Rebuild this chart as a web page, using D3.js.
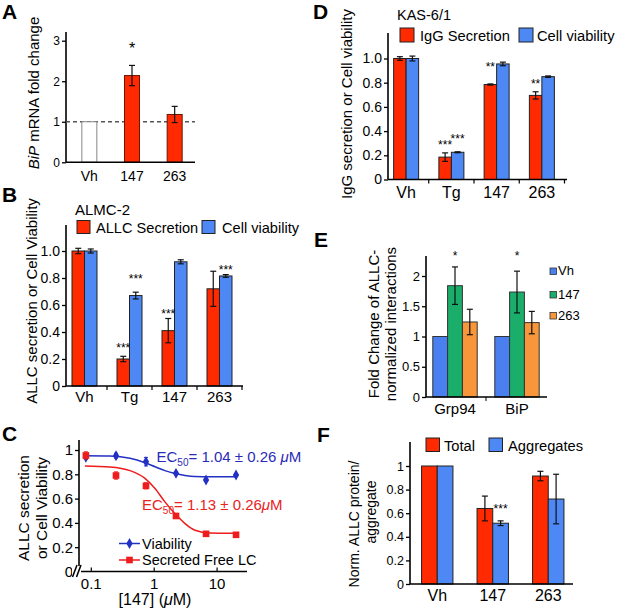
<!DOCTYPE html>
<html>
<head>
<meta charset="utf-8">
<script src="https://cdn.jsdelivr.net/npm/d3@7"></script>
<style>
body { margin: 0; background: #fff; }
text { font-family: 'Liberation Sans', Arial, Helvetica, sans-serif; fill: #000; }
</style>
</head>
<body>
<div id="fig"></div>
<script>
// A: BiP mRNA fold change
const aCats = ["Vh", "147", "263"];
const aFold = [1, 2.14, 1.18];
const aFoldErr = [0, 0.25, 0.2];
const aStars = [{cat: "147", s: 0, level: 2.9, text: "*"}];

// B: ALMC-2
const bCats = ["Vh", "Tg", "147", "263"];
const bSecretion = [1.0, 0.20, 0.41, 0.72];
const bSecretionErr = [0.02, 0.02, 0.09, 0.13];
const bViability = [1.0, 0.67, 0.92, 0.815];
const bViabilityErr = [0.015, 0.025, 0.015, 0.01];
const bStars = [
  {cat: "Tg", s: 0, level: 0.30, text: "***"},
  {cat: "Tg", s: 1, level: 0.81, text: "***"},
  {cat: "147", s: 0, level: 0.55, text: "***"},
  {cat: "263", s: 1, level: 0.88, text: "***"}
];

// C: dose response to 147
const cDose = [0.082, 0.247, 0.74, 2.22, 6.67, 20];
const cViability = [0.94, 0.953, 0.904, 0.808, 0.753, 0.794];
const cViabilityErr = [0.015, 0.02, 0.035, 0.01, 0.01, 0.01];
const cFreeLC = [0.955, 0.79, 0.705, 0.457, 0.31, 0.302];
const cFreeLCErr = [0.03, 0.03, 0.025, 0.01, 0.01, 0.005];
const cFitX = [0.079, 0.198, 0.413, 0.714, 1.03, 1.48, 2.14, 3.09, 4.45, 7.7, 19.3];
const cFitViability = [0.953, 0.951, 0.932, 0.895, 0.862, 0.83, 0.806, 0.79, 0.782, 0.78, 0.78];
const cFitFreeLC = [0.868, 0.86, 0.83, 0.766, 0.683, 0.573, 0.477, 0.394, 0.34, 0.317, 0.315];
const cTicks = [0.1, 1, 10];

// D: KAS-6/1
const dCats = ["Vh", "Tg", "147", "263"];
const dIgG = [1.0, 0.185, 0.785, 0.695];
const dIgGErr = [0.015, 0.035, 0.005, 0.03];
const dViability = [1.0, 0.225, 0.955, 0.85];
const dViabilityErr = [0.02, 0.004, 0.015, 0.006];
const dStars = [
  {cat: "Tg", s: 0, level: 0.31, text: "***"},
  {cat: "Tg", s: 1, level: 0.357, text: "***"},
  {cat: "147", s: 0, level: 0.95, text: "**"},
  {cat: "263", s: 0, level: 0.81, text: "**"}
];

// E: chaperone interactions
const eCats = ["Grp94", "BiP"];
const eVh = [1, 1];
const e147 = [1.84, 1.735];
const e147Err = [0.31, 0.345];
const e263 = [1.24, 1.23];
const e263Err = [0.21, 0.185];
const eStars = [
  {cat: "Grp94", s: 1, level: 2.38, text: "*"},
  {cat: "BiP", s: 1, level: 2.38, text: "*"}
];

// F: total vs aggregates
const fCats = ["Vh", "147", "263"];
const fTotal = [1, 0.64, 0.915];
const fTotalErr = [0, 0.105, 0.04];
const fAggregates = [1, 0.515, 0.72];
const fAggregatesErr = [0, 0.02, 0.21];
const fStars = [{cat: "147", s: 1, level: 0.66, text: "***"}];

const RED = "#ff2a00", BLUE = "#4d88f5";

const svg = d3.select("#fig").append("svg")
  .attr("width", 617).attr("height", 608);
svg.append("rect").attr("width", 617).attr("height", 608).attr("fill", "#fff");

function leftAxis(y, ticks, fmt, xPos, top, fs) {
  const g = svg.append("g").attr("transform", `translate(${xPos},0)`)
    .call(d3.axisLeft(y).tickValues(ticks).tickFormat(fmt).tickSize(4).tickSizeOuter(0));
  g.select(".domain").remove();
  g.append("line").attr("y1", top).attr("y2", y.range()[0])
    .attr("stroke", "#000").attr("stroke-width", 1.6);
  g.selectAll(".tick line").attr("stroke-width", 1.3);
  g.selectAll(".tick text").style("font-size", fs + "px").attr("x", -6);
  return g;
}

function bottomAxis(x, y0, x0, x1, fs, lab, ticks) {
  const yy = y0;
  svg.append("line").attr("x1", x0).attr("x2", x1).attr("y1", yy).attr("y2", yy)
    .attr("stroke", "#000").attr("stroke-width", 1.6);
  if (ticks) {
    svg.append("g").selectAll("line").data(x.domain()).join("line")
      .attr("x1", d => x(d) + x.step()).attr("x2", d => x(d) + x.step())
      .attr("y1", yy).attr("y2", yy + 4).attr("stroke", "#000").attr("stroke-width", 1.2);
  }
  svg.append("g").selectAll("text").data(x.domain()).join("text")
    .attr("x", d => x(d) + x.bandwidth() / 2).attr("y", yy + lab)
    .attr("text-anchor", "middle").style("font-size", fs + "px").text(d => d);
}

function groupedBars(x, y, cats, series, bw) {
  const n = series.length;
  series.forEach((s, i) => {
    const off = -n * bw / 2 + i * bw;
    const cx = d => x(d) + x.bandwidth() / 2 + off;
    svg.append("g").selectAll("rect").data(cats).join("rect")
      .attr("x", d => cx(d))
      .attr("y", (d, j) => y(s.vals[j]))
      .attr("width", bw)
      .attr("height", (d, j) => y(0) - y(s.vals[j]))
      .attr("fill", (d, j) => typeof s.fill === "function" ? s.fill(d, j) : s.fill)
      .attr("stroke", (d, j) => typeof s.stroke === "function" ? s.stroke(d, j) : (s.stroke || "#222"))
      .attr("stroke-width", 1);
    if (s.errs) {
      const eg = svg.append("g").attr("stroke", "#111").attr("stroke-width", 1.2);
      cats.forEach((d, j) => {
        const e = s.errs[j];
        if (!e) return;
        const xm = cx(d) + bw / 2;
        const ya = y(s.vals[j] + e), yb = y(s.vals[j] - e);
        eg.append("line").attr("x1", xm).attr("x2", xm).attr("y1", ya).attr("y2", yb);
        eg.append("line").attr("x1", xm - 3).attr("x2", xm + 3).attr("y1", ya).attr("y2", ya);
        eg.append("line").attr("x1", xm - 3).attr("x2", xm + 3).attr("y1", yb).attr("y2", yb);
      });
    }
  });
}

function stars(x, y, list, n, bw, fs) {
  svg.append("g").selectAll("text").data(list).join("text")
    .attr("x", d => x(d.cat) + x.bandwidth() / 2 - n * bw / 2 + d.s * bw + bw / 2)
    .attr("y", d => y(d.level) + fs * 0.55)
    .attr("text-anchor", "middle").style("font-size", fs + "px").text(d => d.text);
}

function yLabel(lines, xs, cy, fs) {
  lines.forEach((t, i) => {
    const tx = svg.append("text")
      .attr("transform", `translate(${xs[i]},${Array.isArray(cy) ? cy[i] : cy}) rotate(-90)`)
      .attr("text-anchor", "middle").style("font-size", fs + "px");
    if (typeof t === "string") tx.text(t);
    else t.forEach(p => tx.append("tspan").style("font-style", p.i ? "italic" : null).text(p.t));
  });
}

function panelLetter(t, x, y) {
  svg.append("text").attr("x", x).attr("y", y).style("font-size", "21px")
    .style("font-weight", "bold").text(t);
}

function legendBox(x, y, size, color, label, fs, dx) {
  svg.append("rect").attr("x", x).attr("y", y).attr("width", size).attr("height", size)
    .attr("fill", color).attr("stroke", "#222").attr("stroke-width", 1);
  svg.append("text").attr("x", x + size + dx).attr("y", y + size - 1)
    .style("font-size", fs + "px").text(label);
}

// ---------- A ----------
const xA = d3.scaleBand().domain(aCats).range([68, 196]);
const yA = d3.scaleLinear().domain([0, 3]).range([162.3, 40.7]);
leftAxis(yA, [0, 1, 2, 3], d3.format("d"), 66, 32, 12);
svg.append("line").attr("x1", 66).attr("x2", 195).attr("y1", yA(1)).attr("y2", yA(1))
  .attr("stroke", "#555").attr("stroke-width", 1.3).attr("stroke-dasharray", "4,3");
groupedBars(xA, yA, aCats, [{
  vals: aFold, errs: aFoldErr,
  fill: d => d === "Vh" ? "#fff" : RED,
  stroke: d => d === "Vh" ? "#888" : "#6b1500"
}], 15);
bottomAxis(xA, yA(0), 66, 195, 14, 19, false);
stars(xA, yA, aStars, 1, 15, 16);
yLabel([[{t: "BiP", i: true}, {t: " mRNA fold change"}]], [38.5], 93, 15);
panelLetter("A", 2, 18.5);

// ---------- B ----------
const xB = d3.scaleBand().domain(bCats).range([62, 242]);
const yB = d3.scaleLinear().domain([0, 1]).range([386, 251]);
leftAxis(yB, [0, 0.2, 0.4, 0.6, 0.8, 1.0], d => d === 0 ? "0" : d3.format(".1f")(d), 66, 225, 14);
groupedBars(xB, yB, bCats, [
  {vals: bSecretion, errs: bSecretionErr, fill: RED},
  {vals: bViability, errs: bViabilityErr, fill: BLUE}
], 12.5);
bottomAxis(xB, 386, 66, 243, 15, 16, true);
stars(xB, yB, bStars, 2, 12.5, 12);
svg.append("text").attr("x", 75).attr("y", 215).style("font-size", "15px").text("ALMC-2");
legendBox(77, 220.5, 13, RED, "ALLC Secretion", 14.6, 6);
legendBox(202, 220.5, 13, BLUE, "Cell viability", 14.6, 7);
yLabel(["ALLC secretion or Cell Viability"], [37], 301, 15);
panelLetter("B", 2, 201.5);

// ---------- C ----------
const xC = d3.scaleLog().domain([0.1, 10]).range([91.3, 217.1]);
const yC = d3.scaleLinear().domain([0, 1]).range([571.5, 450]);
leftAxis(yC, [0, 0.2, 0.4, 0.6, 0.8, 1], d => d === 0 || d === 1 ? d3.format("d")(d) : d3.format(".1f")(d), 79, 440, 15);
svg.append("line").attr("x1", 77).attr("x2", 247).attr("y1", 571.5).attr("y2", 571.5)
  .attr("stroke", "#000").attr("stroke-width", 1.6);
svg.append("g").selectAll("line").data(cTicks).join("line")
  .attr("x1", d => xC(d)).attr("x2", d => xC(d)).attr("y1", 571.5).attr("y2", 567.5)
  .attr("stroke", "#000").attr("stroke-width", 1.2);
svg.append("g").selectAll("text").data(cTicks).join("text")
  .attr("x", d => xC(d)).attr("y", 589).attr("text-anchor", "middle")
  .style("font-size", "15px").text(d => d3.format("~g")(d));
// axis break
svg.append("rect").attr("x", 72).attr("y", 566).attr("width", 9).attr("height", 10).attr("fill", "#fff");
[[72.5, 77], [76.5, 81]].forEach(p => svg.append("line")
  .attr("x1", p[0]).attr("y1", 577).attr("x2", p[1]).attr("y2", 565)
  .attr("stroke", "#000").attr("stroke-width", 1.5));

const cSeries = [
  {vals: cViability, errs: cViabilityErr, fit: cFitViability, color: "#2231c4", sym: d3.symbolDiamond, size: 34},
  {vals: cFreeLC, errs: cFreeLCErr, fit: cFitFreeLC, color: "#ee1c1c", sym: d3.symbolSquare, size: 44}
];
const cLine = d3.line().x(d => xC(d[0])).y(d => yC(d[1])).curve(d3.curveMonotoneX);
cSeries.forEach(s => {
  svg.append("path").datum(d3.zip(cFitX, s.fit)).attr("fill", "none")
    .attr("stroke", s.color).attr("stroke-width", 1.5).attr("d", cLine);
  const g = svg.append("g");
  cDose.forEach((d, j) => {
    const px = xC(d), ya = yC(s.vals[j] + s.errs[j]), yb = yC(s.vals[j] - s.errs[j]);
    g.append("line").attr("x1", px).attr("x2", px).attr("y1", ya).attr("y2", yb).attr("stroke", s.color).attr("stroke-width", 1);
    g.append("line").attr("x1", px - 2).attr("x2", px + 2).attr("y1", ya).attr("y2", ya).attr("stroke", s.color);
    g.append("line").attr("x1", px - 2).attr("x2", px + 2).attr("y1", yb).attr("y2", yb).attr("stroke", s.color);
  });
  g.selectAll("path").data(cDose).join("path")
    .attr("transform", (d, j) => `translate(${xC(d)},${yC(s.vals[j])})`)
    .attr("d", d3.symbol(s.sym, s.size)).attr("fill", s.color);
});
// legend C
[["Viability", 543.5], ["Secreted Free LC", 560]].forEach((l, i) => {
  const s = cSeries[i];
  svg.append("line").attr("x1", 119).attr("x2", 140).attr("y1", l[1]).attr("y2", l[1])
    .attr("stroke", s.color).attr("stroke-width", 1.5);
  svg.append("path").attr("transform", `translate(129.5,${l[1]})`)
    .attr("d", d3.symbol(s.sym, s.size)).attr("fill", s.color);
  svg.append("text").attr("x", 142).attr("y", l[1] + 5).style("font-size", "14.5px").text(l[0]);
});
// EC50 annotations
function ec50(x, y, color, rest) {
  const t = svg.append("text").attr("x", x).attr("y", y).style("font-size", "15px").style("fill", color);
  t.append("tspan").style("fill", color).text("EC");
  t.append("tspan").style("fill", color).style("font-size", "10px").attr("dy", 4).text("50");
  t.append("tspan").style("fill", color).attr("dy", -4).text(rest);
  t.append("tspan").style("fill", color).style("font-style", "italic").text("\u03bc");
  t.append("tspan").style("fill", color).text("M");
}
ec50(156.5, 462, "#2a2ab8", "= 1.04 \u00b1 0.26 ");
ec50(142, 510, "#e8231e", "= 1.13 \u00b1 0.26");
svg.append("text").attr("x", 155).attr("y", 605).attr("text-anchor", "middle").style("font-size", "16px")
  .call(t => { t.append("tspan").text("[147] ("); t.append("tspan").style("font-style", "italic").text("\u03bc"); t.append("tspan").text("M)"); });
yLabel(["ALLC secretion", "or Cell Viability"], [29, 47], 508, 15.5);
panelLetter("C", 2, 440.5);

// ---------- D ----------
const xD = d3.scaleBand().domain(dCats).range([383.5, 564.5]);
const yD = d3.scaleLinear().domain([0, 1]).range([179.5, 58.5]);
leftAxis(yD, [0, 0.2, 0.4, 0.6, 0.8, 1.0], d => d === 0 ? "0" : d3.format(".1f")(d), 388, 33, 14);
groupedBars(xD, yD, dCats, [
  {vals: dIgG, errs: dIgGErr, fill: RED},
  {vals: dViability, errs: dViabilityErr, fill: BLUE}
], 12.5);
bottomAxis(xD, 179.5, 388, 567, 16, 18, true);
stars(xD, yD, dStars, 2, 12.5, 12);
svg.append("text").attr("x", 397).attr("y", 20).style("font-size", "14.5px").text("KAS-6/1");
legendBox(400, 28, 14, RED, "IgG Secretion", 14.7, 6);
legendBox(519, 28, 14, BLUE, "Cell viability", 14.7, 4);
yLabel(["IgG secretion or Cell viability"], [352], 104, 15);
panelLetter("D", 313, 18.5);

// ---------- E ----------
const xE = d3.scaleBand().domain(eCats).range([424, 548]);
const yE = d3.scaleLinear().domain([0, 2]).range([397, 276]);
leftAxis(yE, [0, 0.5, 1, 1.5, 2], d3.format("~g"), 426, 256, 13);
groupedBars(xE, yE, eCats, [
  {vals: eVh, fill: "#4a7ff0", stroke: "#333"},
  {vals: e147, errs: e147Err, fill: "#1aae6a", stroke: "#333"},
  {vals: e263, errs: e263Err, fill: "#f7963a", stroke: "#333"}
], 14.8);
bottomAxis(xE, 397, 426, 547, 15, 17, false);
svg.append("line").attr("x1", 486).attr("x2", 486).attr("y1", 397).attr("y2", 401).attr("stroke", "#000");
stars(xE, yE, eStars, 3, 14.8, 12);
[["Vh", "#4a7ff0", 268], ["147", "#1aae6a", 291.5], ["263", "#f7963a", 312.5]].forEach(l => {
  svg.append("rect").attr("x", 550).attr("y", l[2]).attr("width", 6.5).attr("height", 6.5)
    .attr("fill", l[1]).attr("stroke", "#333").attr("stroke-width", 0.8);
  svg.append("text").attr("x", 558).attr("y", l[2] + 7).style("font-size", "13px").text(l[0]);
});
yLabel(["Fold Change of ALLC-", "normalized interactions"], [379, 396], 324, 15);
panelLetter("E", 314, 246.5);

// ---------- F ----------
const xF = d3.scaleBand().domain(fCats).range([409.5, 576]);
const yF = d3.scaleLinear().domain([0, 1]).range([584, 466]);
leftAxis(yF, [0, 0.2, 0.4, 0.6, 0.8, 1], d => d === 0 || d === 1 ? d3.format("d")(d) : d3.format(".1f")(d), 410, 442, 12.5);
groupedBars(xF, yF, fCats, [
  {vals: fTotal, errs: fTotalErr, fill: RED},
  {vals: fAggregates, errs: fAggregatesErr, fill: BLUE}
], 15.7);
bottomAxis(xF, 584, 410, 573, 16, 17, false);
stars(xF, yF, fStars, 2, 15.7, 12);
legendBox(426, 438, 13.5, RED, "Total", 14.7, 4.5);
legendBox(489, 438, 13.5, BLUE, "Aggregates", 14.7, 5.5);
yLabel(["Norm. ALLC protein/", "aggregate"], [359, 376], [524, 512], 14);
panelLetter("F", 317, 441.5);
</script>
</body>
</html>
